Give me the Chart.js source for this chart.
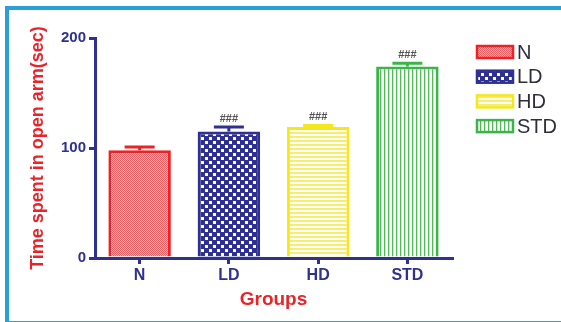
<!DOCTYPE html>
<html>
<head>
<meta charset="utf-8">
<script src="https://cdn.jsdelivr.net/npm/chart.js@4.4.1/dist/chart.umd.min.js"></script>
<style>
  html, body { margin: 0; padding: 0; background: #fff; }
  body { width: 561px; height: 322px; position: relative; overflow: hidden; }
  #frame {
    position: absolute; left: 5px; top: 6px; width: 620px; height: 311px;
    border: 4px solid #2a9fd8; border-right: none;
  }
  #wrap { position: absolute; left: 0; top: 0; width: 561px; height: 322px; }
</style>
</head>
<body>
<div id="frame"></div>
<div id="wrap"><canvas id="barChart" width="561" height="322"></canvas></div>
<script>
// data
const groups = ['N', 'LD', 'HD', 'STD'];
const timeOpenArm = [98, 115, 119, 174];
const sem = [3, 4, 1.5, 3];
const marks = ['', '###', '###', '###'];
const yTicks = [0, 100, 200];

const navy = '#2e3192';
const red = '#ec2227';

function makePattern(w, h, draw) {
	const c = document.createElement('canvas');
	c.width = w; c.height = h;
	const g = c.getContext('2d');
	draw(g);
	return document.getElementById('barChart').getContext('2d').createPattern(c, 'repeat');
}

// fills roughly like the GraphPad hatches
const fillN = makePattern(2, 2, g => {
	g.fillStyle = '#fcd0d2'; g.fillRect(0, 0, 2, 2);
	g.fillStyle = '#f1585d'; g.fillRect(0, 0, 1, 1); g.fillRect(1, 1, 1, 1);
});
const fillLD = makePattern(8, 8, g => {
	g.fillStyle = navy; g.fillRect(0, 0, 8, 8);
	g.fillStyle = '#ffffff'; g.fillRect(1, 1, 3, 3); g.fillRect(5, 5, 3, 3);
});
const fillHD = makePattern(4, 4, g => {
	g.fillStyle = '#ffffff'; g.fillRect(0, 0, 4, 4);
	g.fillStyle = '#f7ee6a'; g.fillRect(0, 0, 4, 2);
});
const fillSTD = makePattern(4, 4, g => {
	g.fillStyle = '#ffffff'; g.fillRect(0, 0, 4, 4);
	g.fillStyle = '#52bb58'; g.fillRect(0, 0, 1, 4);
	g.fillStyle = '#c4e9c6'; g.fillRect(1, 0, 1, 4);
});

const fills = [fillN, fillLD, fillHD, fillSTD];
const edges = [red, navy, '#f4e81c', '#3bb54a'];

// error bars (upper only) and ### marks
const errorBars = {
	id: 'errorBars',
	afterDatasetsDraw(chart) {
		const ctx = chart.ctx;
		const y = chart.scales.y;
		const meta = chart.getDatasetMeta(0);
		ctx.save();
		meta.data.forEach((bar, i) => {
			const top = y.getPixelForValue(timeOpenArm[i] + sem[i]);
			const base = y.getPixelForValue(timeOpenArm[i]);
			ctx.strokeStyle = edges[i];
			ctx.lineWidth = 3;
			ctx.beginPath();
			ctx.moveTo(bar.x - 15, top);
			ctx.lineTo(bar.x + 15, top);
			ctx.moveTo(bar.x, top);
			ctx.lineTo(bar.x, base);
			ctx.stroke();
			if (marks[i]) {
				ctx.fillStyle = '#555';
				ctx.font = 'bold 11px "Liberation Sans", Arial, sans-serif';
				ctx.textAlign = 'center';
				ctx.textBaseline = 'middle';
				ctx.fillText(marks[i], bar.x, top - 8);
			}
		});
		ctx.restore();
	}
};

// legend block on the right, as in the figure
const sideLegend = {
	id: 'sideLegend',
	afterDraw(chart) {
		const ctx = chart.ctx;
		const x0 = chart.chartArea.right + 25;
		ctx.save();
		groups.forEach((name, i) => {
			const cy = 52 + i * 24.7;
			ctx.fillStyle = fills[i];
			ctx.fillRect(x0, cy - 6, 36, 12);
			ctx.strokeStyle = edges[i];
			ctx.lineWidth = 2.5;
			ctx.strokeRect(x0, cy - 6, 36, 12);
			ctx.fillStyle = '#2f2f3c';
			ctx.font = '500 20px "Liberation Sans", Arial, sans-serif';
			ctx.textAlign = 'left';
			ctx.textBaseline = 'middle';
			ctx.fillText(name, x0 + 40, cy + 1);
		});
		ctx.restore();
	}
};

const barCtx = document.getElementById('barChart').getContext('2d');
const barChart = new Chart(barCtx, {
	type: 'bar',
	data: {
		labels: groups,
		datasets: [{
			label: 'Time spent in open arm(sec)',
			data: timeOpenArm,
			backgroundColor: fills,
			borderColor: edges,
			borderWidth: 3,
			borderSkipped: 'bottom',
			barPercentage: 0.7,
			categoryPercentage: 1
		}]
	},
	options: {
		responsive: false,
		animation: false,
		layout: { padding: { top: 38, right: 109, bottom: 0, left: 0 } },
		plugins: {
			legend: { display: false },
			tooltip: { enabled: false }
		},
		scales: {
			x: {
				offset: true,
				afterFit: s => { s.height = 64; },
				grid: { display: true, drawOnChartArea: false, tickLength: 6, color: navy, lineWidth: 3, offset: false },
				border: { color: navy, width: 3 },
				ticks: { color: navy, padding: 2, font: { family: '"Liberation Sans", Arial', size: 16, weight: 'bold' } },
				title: {
					display: true, text: 'Groups', color: red,
					font: { family: '"Liberation Sans", Arial', size: 19, weight: 'bold' },
					padding: { top: 0, bottom: 11 }
				}
			},
			y: {
				min: 0, max: 200,
				afterFit: s => { s.width = 95; },
				afterBuildTicks: s => { s.ticks = yTicks.map(v => ({ value: v })); },
				grid: { display: true, drawOnChartArea: false, tickLength: 6, color: navy, lineWidth: 3 },
				border: { color: navy, width: 3 },
				ticks: { color: navy, padding: 3, font: { family: '"Liberation Sans", Arial', size: 15, weight: 'bold' } },
				title: {
					display: true, text: 'Time spent in open arm(sec)', color: red,
					font: { family: '"Liberation Sans", Arial', size: 18, weight: 'bold' },
					padding: { top: 27, bottom: 0 }
				}
			}
		}
	},
	plugins: [errorBars, sideLegend]
});
</script>
</body>
</html>
